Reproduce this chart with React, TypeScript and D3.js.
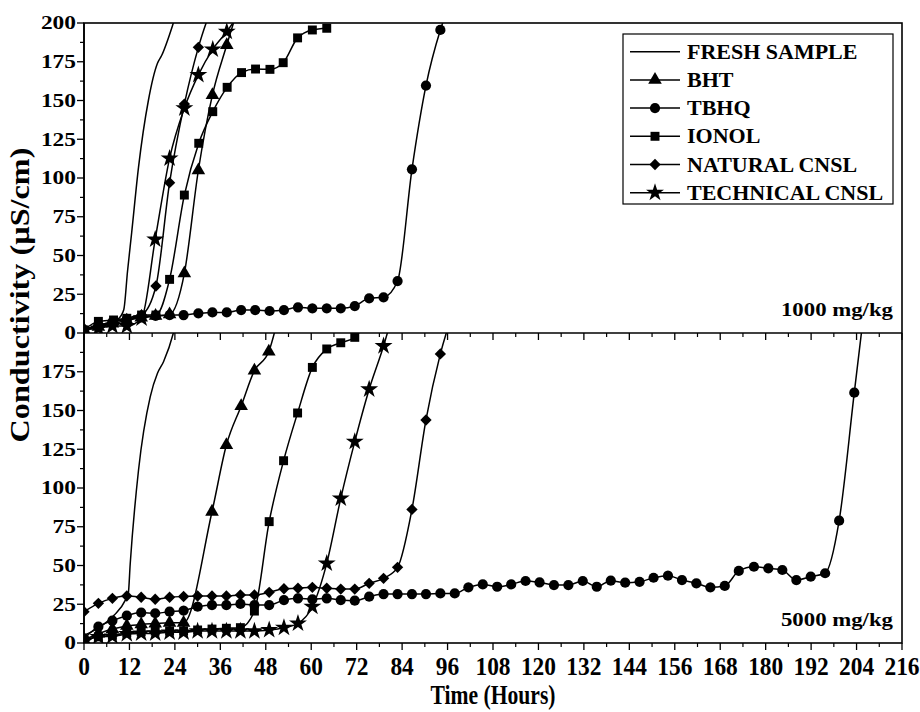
import React from 'react';
import * as d3 from 'd3';

// series names in legend order
const seriesNames = ['FRESH SAMPLE', 'BHT', 'TBHQ', 'IONOL', 'NATURAL CNSL', 'TECHNICAL CNSL'];
const markers = ['none', 'triangle', 'circle', 'square', 'diamond', 'star'];

// 1000 mg/kg panel  [hours, µS/cm]
const freshTop = [[0, 2], [3, 4], [6, 6], [9, 9], [10.5, 15], [11.5, 40], [12.6, 65], [14.4, 107], [17, 150], [19.4, 174], [20.5, 179], [23.6, 200], [25.5, 215]];
const bhtTop = [[0, 2], [3.8, 4], [7.5, 6], [11.3, 8], [15.1, 10], [18.9, 11], [22.6, 12], [26.5, 38.5], [30.2, 105], [33.9, 153.5], [37.7, 185.8], [41, 212]];
const tbhqTop = [[0, 2], [3.8, 5], [7.5, 7], [11.3, 9], [15.1, 10], [18.9, 11], [22.6, 11.5], [26.3, 11.6], [30.2, 12.7], [33.9, 13.3], [37.7, 13.3], [41.5, 14.8], [45.2, 14.8], [49, 14.2], [52.8, 14.8], [56.5, 16.6], [60.3, 15.9], [64.1, 15.9], [67.8, 15.9], [71.5, 17.4], [75.3, 22.4], [79.1, 23], [82.8, 33.5], [86.6, 105.6], [90.3, 159.6], [94.1, 195.5], [96, 209]];
const ionolTop = [[0, 2], [3.8, 7.5], [7.8, 8.4], [11.3, 9.5], [15.2, 11.6], [19, 11.6], [22.6, 34.6], [26.5, 89], [30.3, 122.4], [34, 142.8], [37.8, 158.5], [41.6, 168], [45.3, 170.3], [49.1, 170.1], [52.6, 174.4], [56.4, 190.4], [60.3, 195.5], [64.1, 196.6]];
const naturalTop = [[0, 2], [3.8, 5], [7.5, 7], [11.3, 9], [15.2, 11.6], [19, 30.3], [22.6, 97], [26.5, 147.7], [30.2, 184.3], [34, 212]];
const techTop = [[0, 2], [3.8, 3], [7.5, 4.5], [11.3, 4.5], [15.2, 9.5], [18.8, 60.4], [22.6, 112.7], [26.5, 145], [30.2, 166.5], [34, 183], [37.7, 194.4], [42, 210]];

// 5000 mg/kg panel
const freshBot = [[0, 5], [4, 10], [8, 18], [11, 28], [11.7, 32], [12.2, 51], [14.4, 111.6], [17.5, 159], [19.4, 174], [21, 181.5], [23.6, 200], [25, 215]];
const bhtBot = [[0, 2], [3.8, 6], [7.5, 9], [11.3, 11], [15.1, 12], [18.8, 12.5], [22.6, 13], [26.3, 13], [33.8, 84.7], [37.6, 127.7], [41.5, 152.9], [45, 175.7], [48.8, 188], [51.5, 212]];
const tbhqBot = [[0, 3], [3.8, 10.5], [7.5, 14.4], [11.3, 17.6], [15.1, 19.6], [18.8, 19.2], [22.6, 20.2], [26.3, 20.9], [30, 23.4], [33.8, 24.5], [37.6, 24.5], [41.3, 25.2], [45, 24.5], [48.9, 24.5], [52.8, 27.7], [56.5, 28.8], [60.3, 28.2], [64.1, 28.8], [67.8, 27.7], [71.5, 27.3], [75.3, 29.9], [79.1, 31.6], [82.8, 31.6], [86.6, 31.6], [90.3, 31.6], [94.1, 32], [97.9, 32], [101.5, 35.9], [105.3, 37.8], [109.1, 36.3], [112.8, 37.8], [116.6, 40], [120.3, 39.1], [124.1, 37.4], [127.9, 37.4], [131.7, 40], [135.4, 36.3], [139.1, 40.2], [142.9, 38.9], [146.7, 39.5], [150.4, 42.1], [154.2, 43.4], [157.9, 40.6], [161.7, 38.5], [165.4, 35.9], [169.2, 36.8], [172.9, 46.5], [176.9, 49.2], [180.7, 48.2], [184.4, 47.1], [188.1, 40.6], [191.9, 42.8], [195.7, 45], [199.4, 78.9], [203.4, 161.5], [206.5, 225]];
const ionolBot = [[0, 2], [3.8, 4], [7.5, 5], [11.3, 6.5], [15.1, 7.3], [18.8, 7.7], [22.6, 7.7], [26.3, 7.7], [30, 8.4], [33.8, 9], [37.6, 9.5], [41.3, 9.9], [45, 20.6], [48.9, 78.3], [52.7, 117.6], [56.4, 148.4], [60.3, 177.8], [64.1, 189.7], [67.8, 193.7], [71.5, 197.2], [74, 205]];
const naturalBot = [[0, 20.2], [3.8, 25.6], [7.5, 28.8], [11.3, 30.3], [15.1, 29.5], [18.8, 28.2], [22.6, 29.5], [26.3, 30], [30, 30.3], [33.8, 30.3], [37.6, 30.3], [41.3, 31], [45, 31], [48.9, 32.7], [52.8, 35], [56.5, 35.3], [60.3, 35.9], [64.1, 35.3], [67.8, 34.8], [71.5, 34.8], [75.3, 38.5], [79.1, 41.7], [82.8, 48.8], [86.6, 86.2], [90.3, 143.9], [94.1, 186.5], [97.5, 214]];
const techBot = [[0, 1], [3.8, 4], [7.5, 4.3], [11.3, 5.8], [15.1, 6.2], [18.8, 6.2], [22.6, 6.9], [26.3, 6.9], [30, 7.7], [33.8, 7.7], [37.6, 7.7], [41.3, 7.7], [45, 7.7], [48.9, 8.4], [52.8, 9.9], [56.5, 12.7], [60.3, 23.4], [64.1, 51.4], [67.8, 93.3], [71.5, 129.9], [75.3, 163.7], [79.1, 191.6], [81.5, 212]];

const xTicks = [0, 12, 24, 36, 48, 60, 72, 84, 96, 108, 120, 132, 144, 156, 168, 180, 192, 204, 216];
const yTicksTop = [0, 25, 50, 75, 100, 125, 150, 175, 200];
const yTicksBot = [0, 25, 50, 75, 100, 125, 150, 175];
const panelLabels = ['1000 mg/kg', '5000 mg/kg'];

const W = 920, H = 712;
const left = 84, right = 902, top = 23, mid = 333, bottom = 643;
const font = '"Liberation Serif", "Times New Roman", serif';

const x = d3.scaleLinear().domain([0, 216]).range([left, right]);
const yTop = d3.scaleLinear().domain([0, 200]).range([mid, top]);
const yBot = d3.scaleLinear().domain([0, 200]).range([bottom, mid]);

const symbolPath = (kind: string) => {
  if (kind === 'triangle') return d3.symbol(d3.symbolTriangle, 80)();
  if (kind === 'circle') return d3.symbol(d3.symbolCircle, 82)();
  if (kind === 'square') return d3.symbol(d3.symbolSquare, 80)();
  if (kind === 'diamond') return d3.symbol(d3.symbolDiamond2, 82)();
  if (kind === 'star') return d3.symbol(d3.symbolStar, 100)();
  return null;
};

const Panel = ({ series, y, clipId, y0, y1, label }: any) => {
  const line = d3.line<number[]>().x(d => x(d[0])).y(d => y(d[1])).curve(d3.curveMonotoneX);
  return (
    <g>
      <clipPath id={clipId}>
        <rect x={left} y={y1} width={right - left} height={y0 - y1} />
      </clipPath>
      <g clipPath={`url(#${clipId})`}>
        {series.map((s: number[][], i: number) => (
          <g key={i}>
            <path d={line(s) || ''} fill="none" stroke="#000" strokeWidth={1.5} />
            {markers[i] !== 'none' && s.map((d, j) => (
              <path key={j} d={symbolPath(markers[i]) || ''} transform={`translate(${x(d[0])},${y(d[1])})`} fill="#000" />
            ))}
          </g>
        ))}
      </g>
      <text transform={`translate(893,${y0 - 17}) scale(1.2,1)`} textAnchor="end" fontFamily={font} fontWeight="bold" fontSize={19}>{label}</text>
    </g>
  );
};

const YAxis = ({ y, ticks, y0, y1 }: any) => {
  const minor = d3.range(0, 200, 12.5).map(v => v + 12.5).filter(v => v % 25 !== 0);
  return (
    <g>
      {ticks.map((t: number) => (
        <g key={t}>
          <line x1={left - 7} x2={left} y1={y(t)} y2={y(t)} stroke="#000" strokeWidth={1.3} />
          <text transform={`translate(76,${y(t)}) scale(1.3,1)`} dy="0.35em" textAnchor="end" fontFamily={font} fontWeight="bold" fontSize={18}>{t}</text>
        </g>
      ))}
      {minor.map(t => (
        <line key={t} x1={left - 4} x2={left} y1={y(t)} y2={y(t)} stroke="#000" strokeWidth={1.2} />
      ))}
      <line x1={left} x2={left} y1={y0} y2={y1} stroke="#000" strokeWidth={1.6} />
    </g>
  );
};

const XTicks = ({ yPos }: any) => {
  const minor = d3.range(6, 216, 12);
  return (
    <g>
      {xTicks.map(t => (
        <line key={t} x1={x(t)} x2={x(t)} y1={yPos} y2={yPos + 7} stroke="#000" strokeWidth={1.3} />
      ))}
      {minor.map(t => (
        <line key={t} x1={x(t)} x2={x(t)} y1={yPos} y2={yPos + 4} stroke="#000" strokeWidth={1.2} />
      ))}
    </g>
  );
};

const App = () => {
  const topSeries = [freshTop, bhtTop, tbhqTop, ionolTop, naturalTop, techTop];
  const botSeries = [freshBot, bhtBot, tbhqBot, ionolBot, naturalBot, techBot];
  const legendY = (i: number) => 51.7 + i * 28.2;

  return (
    <svg width={W} height={H} style={{ position: 'absolute', left: 0, top: 0, background: '#fff' }}>
      <rect width={W} height={H} fill="#fff" />
      <Panel series={topSeries} y={yTop} clipId="clipTop" y0={mid} y1={top} label={panelLabels[0]} />
      <Panel series={botSeries} y={yBot} clipId="clipBot" y0={bottom} y1={mid} label={panelLabels[1]} />

      <rect x={left} y={top} width={right - left} height={bottom - top} fill="none" stroke="#000" strokeWidth={1.6} />
      <line x1={left} x2={right} y1={mid} y2={mid} stroke="#000" strokeWidth={1.6} />

      <YAxis y={yTop} ticks={yTicksTop} y0={mid} y1={top} />
      <YAxis y={yBot} ticks={yTicksBot} y0={bottom} y1={mid} />
      <XTicks yPos={mid} />
      <XTicks yPos={bottom} />

      {xTicks.map(t => (
        <text key={t} transform={`translate(${x(t)},675) scale(0.9,1)`} textAnchor="middle" fontFamily={font} fontWeight="bold" fontSize={26}>{t}</text>
      ))}

      <text transform={`translate(${(left + right) / 2},704) scale(0.8,1)`} textAnchor="middle" fontFamily={font} fontWeight="bold" fontSize={27}>Time (Hours)</text>
      <text transform="translate(29,295) rotate(-90) scale(1.15,1)" textAnchor="middle" fontFamily={font} fontWeight="bold" fontSize={28}>Conductivity (µS/cm)</text>

      {/* legend */}
      <rect x={623} y={34} width={270} height={170} fill="#fff" stroke="#000" strokeWidth={1.2} />
      {seriesNames.map((name, i) => (
        <g key={name}>
          <line x1={630} x2={680} y1={legendY(i)} y2={legendY(i)} stroke="#000" strokeWidth={1.5} />
          {markers[i] !== 'none' && (
            <path d={symbolPath(markers[i]) || ''} transform={`translate(655,${legendY(i)})`} fill="#000" />
          )}
          <text transform={`translate(687,${legendY(i)}) scale(1.1,1)`} dy="0.35em" fontFamily={font} fontWeight="bold" fontSize={20}>{name}</text>
        </g>
      ))}
    </svg>
  );
};

export default App;
